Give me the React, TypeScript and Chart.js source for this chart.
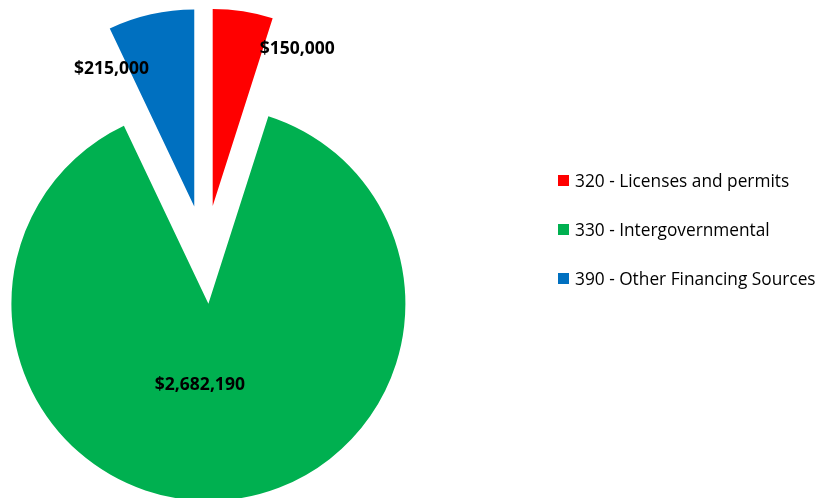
import React, { useEffect, useRef } from "react";
import { Chart, registerables } from "chart.js";

Chart.register(...registerables);

// ---- data ----
const categories = [
  "320 - Licenses and permits",
  "330 - Intergovernmental",
  "390 - Other Financing Sources",
];
const amounts = [150000, 2682190, 215000];
const sliceColors = ["#FF0000", "#00B050", "#0070C0"];

// ---- layout / style ----
const W = 827;
const H = 498;
const PIE_RADIUS = 197;
const EXPLODE = 49.3; // how far each slice is pulled out
const CENTER_X = 205.1;
const CENTER_Y = 254.6;
const LABEL_ANGLE_SHIFT = [19.3, 9.9, -18.1]; // degrees from slice middle
const LABEL_RADIUS_FRAC = [0.91, 0.41, 0.82];
const LABEL_FONT = "bold 17.5px 'Open Sans'";
const LEGEND_LEFT = 558;
const LEGEND_FIRST_CENTER = 181;
const LEGEND_STEP = 48.8;

// Chart.js enlarges and narrows offset arcs depending on their size;
// undo that so every slice keeps the same radius and its true angle.
const explodedSlicePlugin = {
  id: "explodedSlices",
  afterDatasetUpdate(chart: any, args: any) {
    const t = EXPLODE;
    args.meta.data.forEach((arc: any) => {
      const fix = 1 - Math.sin(Math.min(Math.PI, arc.circumference || 0));
      const radiusOffset = t * fix;
      arc.outerRadius = PIE_RADIUS - radiusOffset;
      const d = radiusOffset / Math.PI / PIE_RADIUS / 2;
      arc.startAngle = arc.startAngle - d;
      arc.endAngle = arc.endAngle + d;
    });
  },
};

const valueLabelPlugin = {
  id: "valueLabels",
  afterDatasetsDraw(chart: any) {
    const meta = chart.getDatasetMeta(0);
    const values = chart.data.datasets[0].data as number[];
    const ctx = chart.ctx as CanvasRenderingContext2D;
    ctx.save();
    ctx.font = LABEL_FONT;
    ctx.fillStyle = "#000000";
    ctx.textAlign = "center";
    ctx.textBaseline = "middle";
    meta.data.forEach((arc: any, i: number) => {
      const mid = (arc.startAngle + arc.endAngle) / 2;
      const ax = arc.x + Math.cos(mid) * EXPLODE;
      const ay = arc.y + Math.sin(mid) * EXPLODE;
      const a = mid + (LABEL_ANGLE_SHIFT[i] * Math.PI) / 180;
      const r = PIE_RADIUS * LABEL_RADIUS_FRAC[i];
      ctx.fillText(
        "$" + values[i].toLocaleString("en-US"),
        ax + Math.cos(a) * r,
        ay + Math.sin(a) * r + 1
      );
    });
    ctx.restore();
  },
};

export default function App() {
  const canvasRef = useRef<HTMLCanvasElement | null>(null);

  useEffect(() => {
    if (!canvasRef.current) return;
    const chart = new Chart(canvasRef.current, {
      type: "pie",
      data: {
        labels: categories,
        datasets: [
          {
            data: amounts,
            backgroundColor: sliceColors,
            borderWidth: 0,
            offset: EXPLODE * 4,
            hoverOffset: 0,
            radius: PIE_RADIUS,
            clip: false,
          } as any,
        ],
      },
      options: {
        responsive: false,
        animation: false,
        events: [],
        devicePixelRatio: 1,
        layout: {
          padding: {
            left: 0,
            right: W - 2 * CENTER_X,
            top: 2 * CENTER_Y - H,
            bottom: 0,
          },
        },
        plugins: {
          legend: { display: false },
          tooltip: { enabled: false },
        },
      },
      plugins: [explodedSlicePlugin, valueLabelPlugin],
    });
    return () => chart.destroy();
  }, []);

  return (
    <div
      style={{
        position: "fixed",
        left: 0,
        top: 0,
        width: W,
        height: H,
        background: "#ffffff",
        overflow: "hidden",
      }}
    >
      <canvas
        ref={canvasRef}
        width={W}
        height={H}
        style={{ position: "absolute", left: 0, top: 0, display: "block" }}
      />
      <div
        style={{
          position: "absolute",
          left: LEGEND_LEFT,
          top: LEGEND_FIRST_CENTER - LEGEND_STEP / 2,
          fontFamily: "'Open Sans', sans-serif",
          fontSize: 17.3,
          color: "#000000",
        }}
      >
        {categories.map((c, i) => (
          <div
            key={c}
            style={{
              height: LEGEND_STEP,
              display: "flex",
              alignItems: "center",
              whiteSpace: "nowrap",
            }}
          >
            <span
              style={{
                display: "inline-block",
                width: 11,
                height: 11,
                background: sliceColors[i],
                marginRight: 6,
                flex: "none",
              }}
            />
            <span>{c}</span>
          </div>
        ))}
      </div>
    </div>
  );
}
